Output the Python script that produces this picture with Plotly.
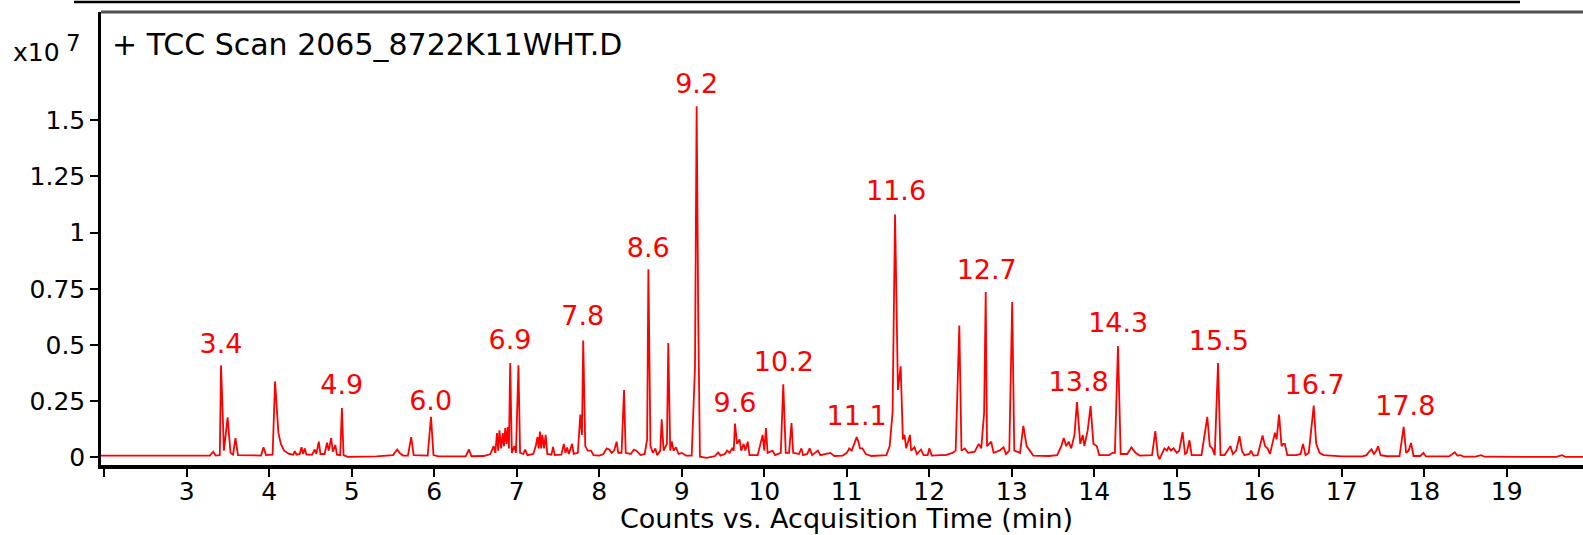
import plotly.graph_objects as go

# Chromatogram vertices (time in min, counts in units of 1e7)
time = [1.96, 3.28, 3.32, 3.35, 3.40, 3.415, 3.45, 3.495, 3.53, 3.56, 3.59, 3.62, 3.90, 3.93, 3.96,
        4.04, 4.07, 4.09, 4.11, 4.14, 4.18, 4.24, 4.29, 4.31, 4.33, 4.37, 4.39, 4.41, 4.43, 4.45,
        4.52, 4.55, 4.57, 4.60, 4.62, 4.67, 4.70, 4.72, 4.75, 4.77, 4.80, 4.82, 4.86, 4.88, 4.90,
        4.95, 5.30, 5.50, 5.55, 5.58, 5.62, 5.68, 5.72, 5.75, 5.92, 5.96, 5.99, 6.05, 6.38, 6.42,
        6.45, 6.60, 6.68, 6.72, 6.74, 6.76, 6.775, 6.79, 6.81, 6.83, 6.845, 6.86, 6.875, 6.89, 6.905,
        6.92, 6.94, 6.97, 6.99, 7.02, 7.04, 7.08, 7.10, 7.13, 7.20, 7.23, 7.25, 7.265, 7.28, 7.295,
        7.31, 7.33, 7.35, 7.37, 7.42, 7.44, 7.46, 7.54, 7.57, 7.59, 7.61, 7.63, 7.67, 7.69, 7.74,
        7.77, 7.79, 7.805, 7.83, 7.86, 7.90, 7.93, 8.00, 8.05, 8.09, 8.12, 8.15, 8.18, 8.21, 8.23,
        8.27, 8.30, 8.32, 8.38, 8.42, 8.45, 8.50, 8.55, 8.58, 8.595, 8.62, 8.65, 8.68, 8.70, 8.74,
        8.756, 8.78, 8.82, 8.836, 8.86, 8.88, 8.90, 8.93, 8.96, 9.00, 9.05, 9.12, 9.16, 9.18, 9.20,
        9.22, 9.30, 9.40, 9.44, 9.47, 9.52, 9.55, 9.58, 9.61, 9.63, 9.645, 9.67, 9.70, 9.72, 9.75,
        9.77, 9.80, 9.82, 9.92, 9.98, 10.00, 10.02, 10.04, 10.10, 10.13, 10.20, 10.23, 10.26, 10.30,
        10.33, 10.35, 10.42, 10.45, 10.47, 10.52, 10.55, 10.58, 10.65, 10.68, 10.80, 10.85, 10.95, 11.00,
        11.03, 11.06, 11.12, 11.14, 11.16, 11.19, 11.23, 11.30, 11.48, 11.52, 11.555, 11.585, 11.62, 11.653,
        11.68, 11.70, 11.72, 11.766, 11.78, 11.82, 11.85, 11.90, 11.93, 11.98, 12.00, 12.03, 12.13, 12.20,
        12.28, 12.32, 12.364, 12.39, 12.43, 12.47, 12.55, 12.60, 12.63, 12.665, 12.684, 12.70, 12.75, 12.78,
        12.85, 12.90, 12.93, 12.97, 13.005, 13.03, 13.10, 13.14, 13.18, 13.22, 13.26, 13.45, 13.55, 13.60,
        13.63, 13.66, 13.69, 13.72, 13.76, 13.79, 13.83, 13.86, 13.88, 13.92, 13.955, 13.99, 14.03, 14.06,
        14.18, 14.22, 14.25, 14.287, 14.32, 14.40, 14.45, 14.48, 14.50, 14.55, 14.70, 14.74, 14.77, 14.79,
        14.83, 14.85, 14.88, 14.90, 14.93, 14.96, 15.00, 15.03, 15.07, 15.10, 15.12, 15.154, 15.18, 15.30,
        15.37, 15.40, 15.43, 15.46, 15.50, 15.53, 15.58, 15.62, 15.65, 15.68, 15.72, 15.76, 15.79, 15.82,
        15.88, 15.90, 15.93, 15.98, 16.04, 16.07, 16.10, 16.13, 16.16, 16.19, 16.21, 16.24, 16.27, 16.29,
        16.31, 16.34, 16.45, 16.50, 16.53, 16.56, 16.60, 16.66, 16.69, 16.73, 16.78, 16.90, 17.00, 17.25,
        17.30, 17.33, 17.36, 17.39, 17.42, 17.44, 17.47, 17.55, 17.70, 17.75, 17.78, 17.81, 17.84, 17.87,
        17.95, 17.99, 18.02, 18.30, 18.34, 18.37, 18.40, 18.44, 18.48, 18.62, 18.69, 18.73, 19.60, 19.67,
        19.71, 20.00]
counts = [0.008, 0.008, 0.025, 0.008, 0.010, 0.410, 0.030, 0.178, 0.020, 0.012, 0.086, 0.010, 0.008, 0.045, 0.010,
          0.012, 0.338, 0.200, 0.110, 0.060, 0.030, 0.015, 0.012, 0.028, 0.012, 0.015, 0.045, 0.015, 0.040, 0.012,
          0.012, 0.035, 0.015, 0.070, 0.015, 0.015, 0.065, 0.030, 0.086, 0.025, 0.055, 0.012, 0.010, 0.220, 0.010,
          0.002, 0.004, 0.010, 0.035, 0.020, 0.008, 0.008, 0.090, 0.010, 0.008, 0.180, 0.010, 0.004, 0.004, 0.035,
          0.005, 0.006, 0.015, 0.050, 0.020, 0.108, 0.030, 0.120, 0.040, 0.108, 0.050, 0.130, 0.060, 0.135, 0.040,
          0.420, 0.020, 0.050, 0.020, 0.410, 0.020, 0.015, 0.035, 0.010, 0.015, 0.050, 0.090, 0.040, 0.115, 0.040,
          0.100, 0.040, 0.100, 0.015, 0.012, 0.046, 0.010, 0.012, 0.060, 0.020, 0.044, 0.015, 0.060, 0.015, 0.020,
          0.190, 0.100, 0.520, 0.050, 0.030, 0.030, 0.010, 0.008, 0.015, 0.040, 0.035, 0.020, 0.030, 0.070, 0.020,
          0.020, 0.300, 0.020, 0.015, 0.035, 0.030, 0.010, 0.015, 0.080, 0.837, 0.050, 0.020, 0.040, 0.010, 0.030,
          0.169, 0.030, 0.060, 0.509, 0.030, 0.070, 0.030, 0.045, 0.015, 0.020, 0.008, 0.008, 0.400, 1.563, 0.600,
          0.003, -0.002, 0.005, 0.022, 0.008, 0.015, 0.030, 0.020, 0.040, 0.030, 0.150, 0.060, 0.080, 0.030, 0.060,
          0.030, 0.070, 0.010, 0.010, 0.100, 0.030, 0.130, 0.020, 0.030, 0.010, 0.020, 0.325, 0.020, 0.020,
          0.153, 0.020, 0.015, 0.040, 0.010, 0.015, 0.040, 0.010, 0.030, 0.010, 0.020, 0.006, 0.008, 0.020,
          0.040, 0.030, 0.090, 0.070, 0.040, 0.040, 0.015, 0.006, 0.010, 0.050, 0.200, 1.081, 0.300, 0.405,
          0.080, 0.100, 0.040, 0.100, 0.030, 0.045, 0.015, 0.035, 0.010, 0.010, 0.040, 0.008, 0.010, 0.010,
          0.020, 0.030, 0.587, 0.030, 0.040, 0.020, 0.025, 0.060, 0.040, 0.200, 0.736, 0.050, 0.070, 0.020,
          0.030, 0.045, 0.015, 0.030, 0.691, 0.030, 0.020, 0.140, 0.050, 0.030, 0.008, 0.006, 0.010, 0.050,
          0.086, 0.050, 0.070, 0.040, 0.100, 0.246, 0.060, 0.100, 0.050, 0.120, 0.228, 0.060, 0.050, 0.010,
          0.010, 0.020, 0.020, 0.495, 0.015, 0.015, 0.045, 0.030, 0.020, 0.008, 0.010, 0.117, 0.010, -0.008,
          0.030, 0.040, 0.030, 0.045, 0.030, 0.040, 0.020, 0.030, 0.112, 0.015, 0.020, 0.076, 0.010, 0.010,
          0.180, 0.050, 0.040, 0.010, 0.420, 0.010, 0.010, 0.030, 0.050, 0.015, 0.030, 0.094, 0.030, 0.010,
          0.015, 0.030, 0.008, 0.010, 0.097, 0.050, 0.040, 0.015, 0.060, 0.110, 0.080, 0.190, 0.050, 0.060,
          0.060, 0.010, 0.010, 0.015, 0.060, 0.010, 0.020, 0.230, 0.060, 0.020, 0.010, 0.006, 0.004, 0.004,
          0.010, 0.025, 0.036, 0.015, 0.030, 0.050, 0.010, 0.005, 0.006, 0.136, 0.020, 0.030, 0.064, 0.006,
          0.006, 0.020, 0.004, 0.004, 0.015, 0.023, 0.008, 0.010, 0.003, 0.003, 0.010, 0.003, 0.002, 0.010,
          0.002, 0.002]

# Peak labels (retention time text and its position)
label_text = ["3.4", "4.9", "6.0", "6.9", "7.8", "8.6", "9.2", "9.6", "10.2", "11.1",
              "11.6", "12.7", "13.8", "14.3", "15.5", "16.7", "17.8"]
label_x = [3.414, 4.878, 5.956, 6.918, 7.80, 8.594, 9.180, 9.645, 10.238, 11.12,
           11.597, 12.696, 13.81, 14.29, 15.51, 16.67, 17.77]
label_y = [0.495, 0.314, 0.240, 0.514, 0.62, 0.923, 1.651, 0.233, 0.415, 0.174,
           1.175, 0.826, 0.325, 0.586, 0.51, 0.31, 0.22]

y_tickvals = [0, 0.25, 0.5, 0.75, 1, 1.25, 1.5]
y_ticktext = ["0", "0.25", "0.5", "0.75", "1", "1.25", "1.5"]
x_tickvals = list(range(2, 20))
x_ticktext = [""] + [str(v) for v in range(3, 20)]

FONT = "DejaVu Sans"

fig = go.Figure()
fig.add_trace(go.Scatter(x=time, y=counts, mode="lines",
                         line=dict(color="rgb(255,0,0)", width=1.8),
                         hoverinfo="skip", showlegend=False, cliponaxis=True))
fig.add_trace(go.Scatter(x=label_x, y=label_y, mode="text", text=label_text,
                         textposition="middle center",
                         textfont=dict(family=FONT, size=27, color="rgb(255,0,0)"),
                         hoverinfo="skip", showlegend=False))

W, H = 1583, 535
L, R, T, B = 101, 0, 12, 70
pw, ph = W - L - R, H - T - B

def px(x):
    return (x - L) / pw

def py(y):
    return (H - B - y) / ph

fig.update_layout(
    width=W, height=H,
    margin=dict(l=L, r=R, t=T, b=B, pad=0, autoexpand=False),
    paper_bgcolor="white", plot_bgcolor="white",
    font=dict(family=FONT, color="black"),
    xaxis=dict(range=[1.96, 19.924], showgrid=False, zeroline=False, automargin=False,
               showline=True, linecolor="black", linewidth=3.5,
               ticks="outside", ticklen=8, tickwidth=1.5, tickcolor="black",
               ticklabelstandoff=-7,
               tickvals=x_tickvals, ticktext=x_ticktext,
               tickfont=dict(family=FONT, size=25, color="black")),
    yaxis=dict(range=[-0.034, 1.982], showgrid=False, zeroline=False, automargin=False,
               showline=True, linecolor="black", linewidth=2.5,
               ticks="outside", ticklen=8, tickwidth=1.5, tickcolor="black",
               tickvals=y_tickvals, ticktext=y_ticktext,
               tickfont=dict(family=FONT, size=25, color="black")),
    shapes=[
        dict(type="line", xref="paper", yref="paper", x0=0, x1=1.01, y0=1, y1=1,
             line=dict(color="#505050", width=3)),
        dict(type="line", xref="paper", yref="paper", x0=px(74), x1=px(1520),
             y0=py(2), y1=py(2), line=dict(color="black", width=2.5)),
    ],
    annotations=[
        dict(text="+ TCC Scan 2065_8722K11WHT.D", xref="paper", yref="paper",
             x=px(110), y=py(44), xanchor="left", yanchor="middle", showarrow=False,
             font=dict(family=FONT, size=30, color="black")),
        dict(text="x10", xref="paper", yref="paper",
             x=px(11), y=py(52), xanchor="left", yanchor="middle", showarrow=False,
             font=dict(family=FONT, size=25, color="black")),
        dict(text="7", xref="paper", yref="paper",
             x=px(64), y=py(43), xanchor="left", yanchor="middle", showarrow=False,
             font=dict(family=FONT, size=23, color="black")),
        dict(text="Counts vs. Acquisition Time (min)", xref="paper", yref="paper",
             x=px(846), y=py(518), xanchor="center", yanchor="middle", showarrow=False,
             font=dict(family=FONT, size=27, color="black")),
    ],
)

fig.write_html(
    "out.html",
    config={"displayModeBar": False},
    post_script="document.body.style.margin='0';document.body.style.padding='0';"
                "document.body.style.overflow='hidden';",
)
